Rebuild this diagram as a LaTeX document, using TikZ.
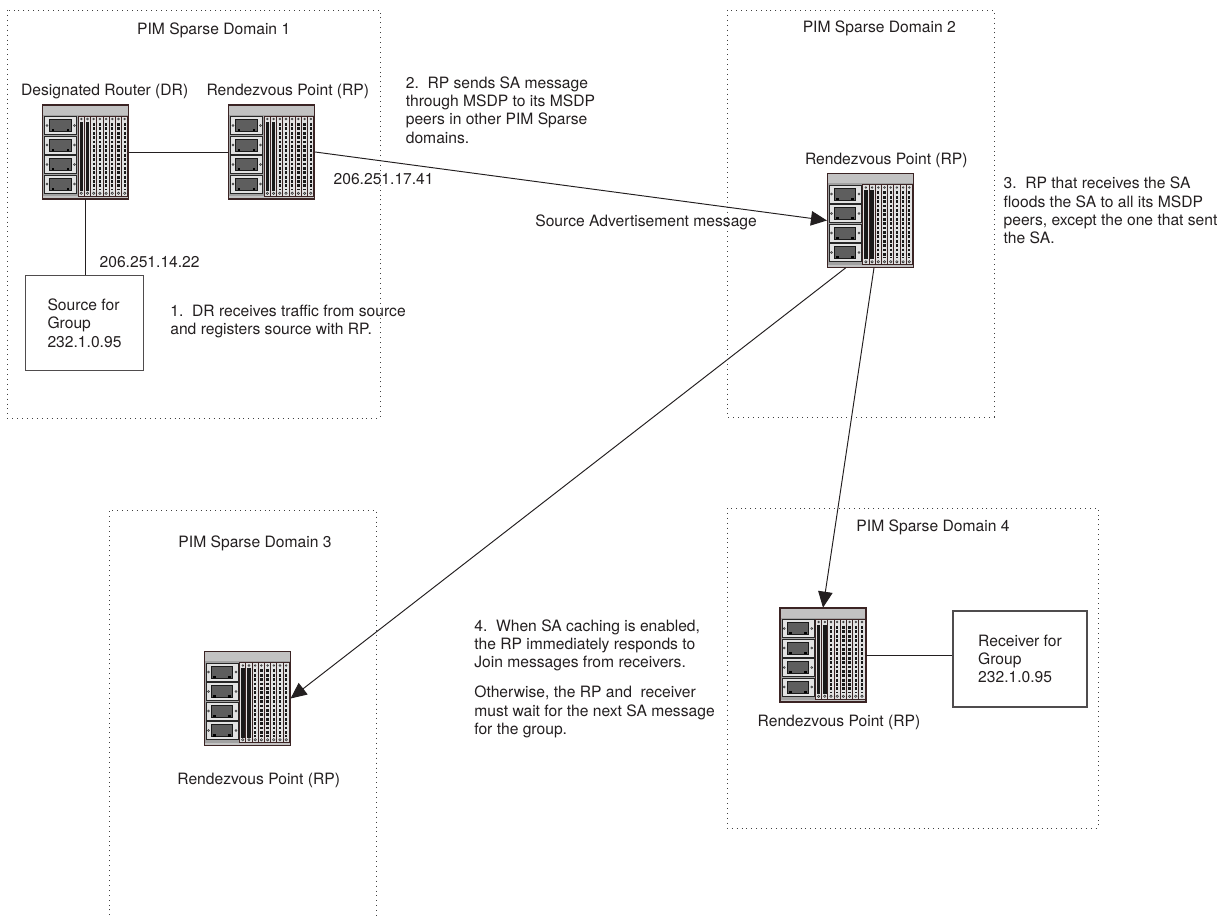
\documentclass[tikz,border=0pt]{standalone}
\usepackage{fontspec}
\setmainfont{TeX Gyre Heros}
\usetikzlibrary{arrows.meta, positioning, calc}
\definecolor{inkgray}{HTML}{231F20}
\definecolor{framebrown}{HTML}{3B2424}
\definecolor{chassisgray}{HTML}{A2A2A2}
\definecolor{paneltop}{HTML}{C2C2C2}
\definecolor{slotlight}{HTML}{E2E2E2}
\definecolor{screengray}{HTML}{5E5E5E}
\newcommand{\diagfont}{\fontsize{8.9}{10.4}\selectfont}
\tikzset{
    lbl/.style={font=\diagfont, text=inkgray, inner sep=0pt},
    note/.style={lbl, align=left, anchor=north west},
    domainbox/.style={draw=black!75, line width=0.5pt, dash pattern=on 0.5pt off 2.3pt},
    hostbox/.style={rectangle, draw=inkgray!80, line width=0.6pt, font=\diagfont, text=inkgray, align=left, inner sep=0pt},
    link/.style={draw=inkgray, line width=0.55pt},
    arrow/.style={link, -{Triangle[length=3.2mm, width=2.9mm]}},
    routerbox/.style={rectangle, inner sep=0pt, minimum width=1.72cm, minimum height=1.88cm},
    pics/router/.style={code={
        \begin{scope}[shift={(-43,-47)}]
            \draw[draw=framebrown, fill=chassisgray, line width=0.7pt] (0,0) rectangle (86,94);
            \fill[paneltop] (0.6,0.6) rectangle (85.4,10);
            \fill[paneltop] (0.6,91.5) rectangle (85.4,93.4);
            % line cards on the left
            \foreach \i in {0,...,3}{
                \pgfmathsetmacro\ytop{11.5+19.5*\i}
                \draw[fill=slotlight, draw=black!85, line width=0.4pt] (2,\ytop) rectangle (34,\ytop+18);
                \draw[fill=screengray, draw=black!90, line width=0.4pt] (7,\ytop+3) rectangle (28.5,\ytop+15);
                \fill[black] (9,\ytop+12.8) rectangle (11.6,\ytop+15);
                \fill[black] (24,\ytop+12.8) rectangle (26.6,\ytop+15);
                \draw[black!80, line width=0.3pt] (4.3,\ytop+9) circle[radius=1];
                \draw[black!80, line width=0.3pt] (31.7,\ytop+9) circle[radius=1];
            }
            % vertical boards on the right
            \foreach \j in {0,...,7}{
                \pgfmathsetmacro\xl{35.5+6.2*\j}
                \draw[fill=slotlight, draw=framebrown, line width=0.5pt] (\xl,11) rectangle (\xl+6.2,91);
                \ifnum\j<2
                    \fill[black!90] (\xl+1.4,17) rectangle (\xl+4.8,86);
                \else
                    \draw[black!90, line width=1.3pt, dash pattern=on 1.6pt off 0.9pt] (\xl+3.1,18) -- (\xl+3.1,85);
                \fi
                \draw[black!80, line width=0.3pt] (\xl+3.1,14) circle[radius=0.9];
                \draw[black!80, line width=0.35pt] (\xl+3.1,88.3) circle[radius=1.2];
            }
        \end{scope}
        \node[routerbox] (-box) at (0,0) {};
    }}
}

\begin{document}
\begin{tikzpicture}[x=0.02cm, y=-0.02cm]
    \useasboundingbox (0,0) rectangle (1231,918);

    % sparse domains
    \draw[domainbox] (7,10) rectangle (380,418);
    \draw[domainbox] (727,10) rectangle (994,417);
    \draw[domainbox] (109,930) |- (376,510) -- (376,930);
    \draw[domainbox] (727,508) rectangle (1098,828);

    \node[lbl, anchor=base] (dom1) at (213.7,35) {PIM Sparse Domain 1};
    \node[lbl, anchor=base] (dom2) at (879.3,32.3) {PIM Sparse Domain 2};
    \node[lbl, anchor=base] (dom3) at (255,547.3) {PIM Sparse Domain 3};
    \node[lbl, anchor=base] (dom4) at (933,531.6) {PIM Sparse Domain 4};

    % routers
    \pic (dr) at (85.7,152) {router};
    \pic (rp1) at (271.8,152) {router};
    \pic (rp2) at (870.3,220.5) {router};
    \pic (rp3) at (247.2,698.5) {router};
    \pic (rp4) at (823,655) {router};

    \node[lbl, above=0.1cm of dr-box, xshift=0.38cm] (drlbl) {Designated Router (DR)};
    \node[lbl, above=0.1cm of rp1-box, xshift=0.32cm] (rp1lbl) {Rendezvous Point (RP)};
    \node[lbl, above=0.09cm of rp2-box, xshift=0.32cm] (rp2lbl) {Rendezvous Point (RP)};
    \node[lbl, below=0.54cm of rp3-box, xshift=0.23cm] (rp3lbl) {Rendezvous Point (RP)};
    \node[lbl, below=0.24cm of rp4-box, xshift=0.32cm] (rp4lbl) {Rendezvous Point (RP)};

    % source and receiver hosts
    \node[hostbox, minimum width=2.35cm, minimum height=1.91cm] (src) at (84.5,323.2) {Source for\\Group\\232.1.0.95};
    \node[hostbox, minimum width=2.68cm, minimum height=1.92cm] (rcv) at (1020,659) {Receiver for\\Group\\232.1.0.95};

    % links
    \draw[link] (dr-box.east) -- (rp1-box.west);
    \draw[link] (dr-box.south) -- (dr-box.south |- src.north);
    \draw[arrow] (rp1-box.east) -- (rp2-box.west);
    \draw[arrow] ($(rp2-box.south)+(-24.6,0)$) -- (rp3-box.east);
    \draw[arrow] ($(rp2-box.south)+(3.7,0)$) -- (rp4-box.north);
    \draw[link] (rp4-box.east) -- (rp4-box.east -| rcv.west);

    \node[lbl, anchor=base west] (addrsrc) at (99.3,267.3) {206.251.14.22};
    \node[lbl, anchor=base west] (addrrp) at (333.3,184.6) {206.251.17.41};
    \node[lbl, anchor=base west] (samsg) at (535,226.5) {Source Advertisement message};

    % numbered steps
    \node[note] (step1) at (170,304.9) {1.\ \ DR receives traffic from source\\and registers source with RP.};
    \node[note] (step2) at (405.5,76.4) {2.\ \ RP sends SA message\\through MSDP to its MSDP\\peers in other PIM Sparse\\domains.};
    \node[note] (step3) at (1003.3,176.9) {3.\ \ RP that receives the SA\\floods the SA to all its MSDP\\peers, except the one that sent\\the SA.};
    \node[note] (step4) at (474,619.2) {4.\ \ When SA caching is enabled,\\the RP immediately responds to\\Join messages from receivers.\\[6.7pt]Otherwise, the RP and\ \ receiver\\must wait for the next SA message\\for the group.};
\end{tikzpicture}
\end{document}
